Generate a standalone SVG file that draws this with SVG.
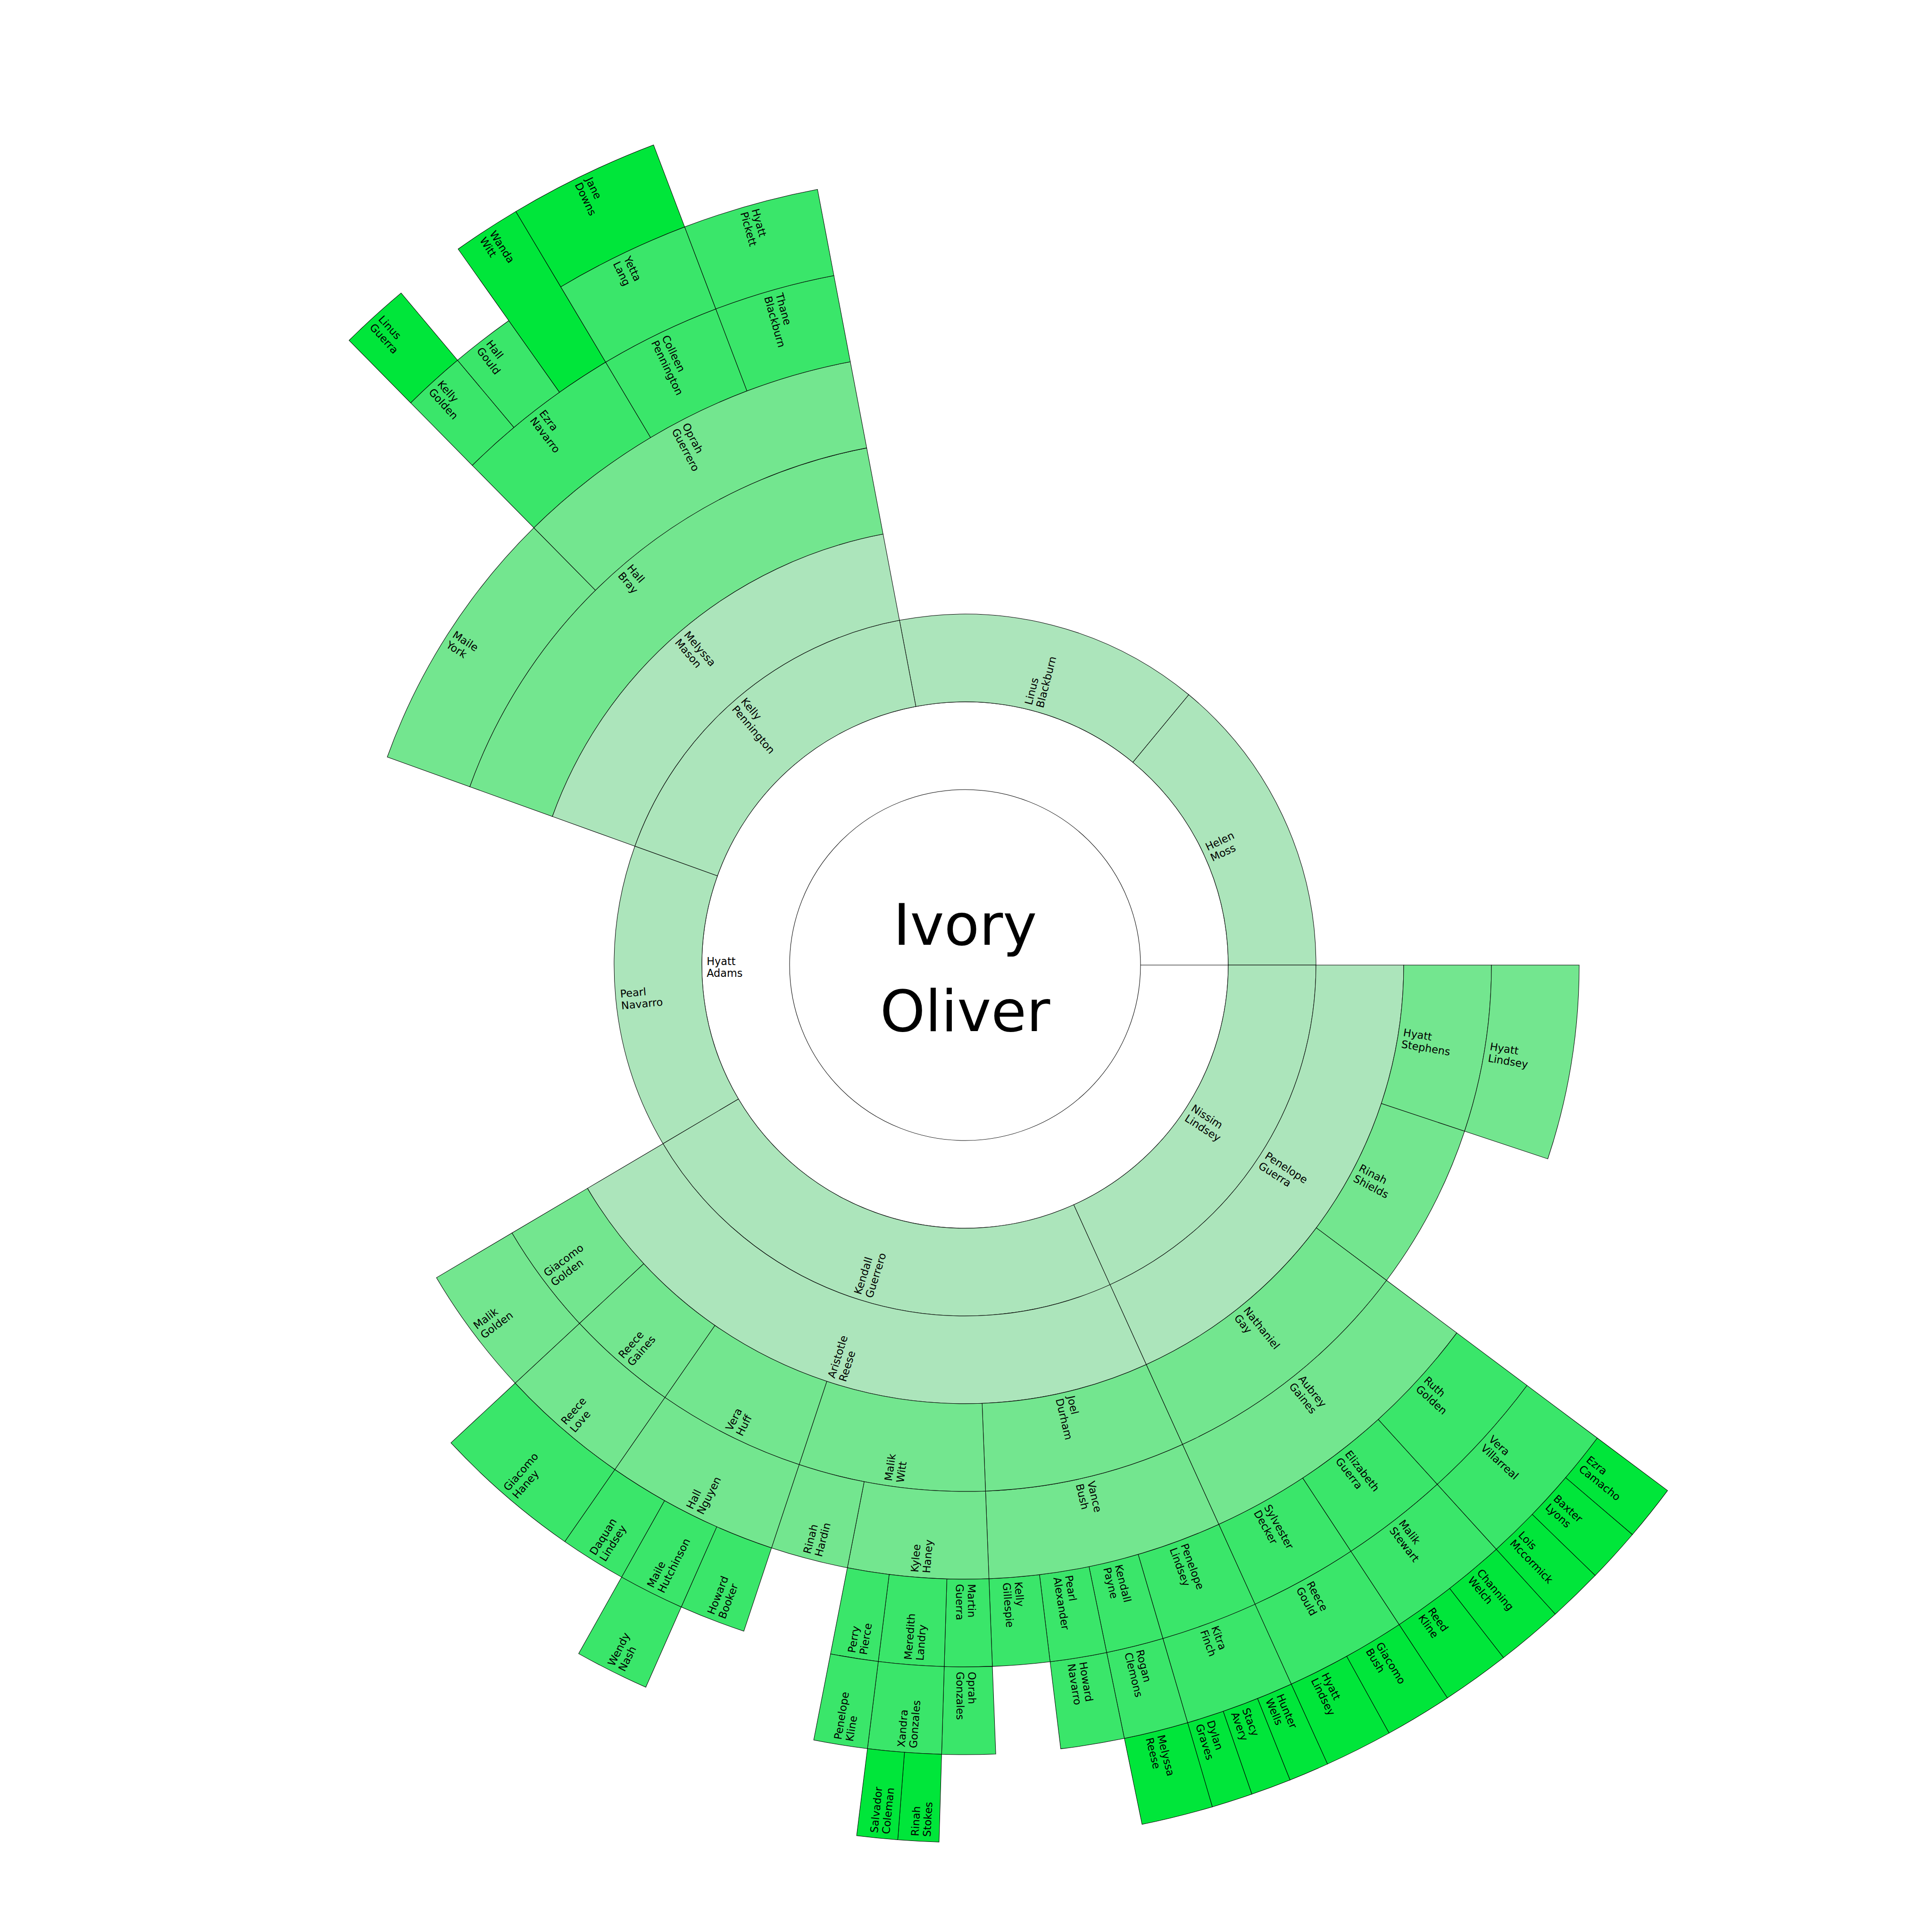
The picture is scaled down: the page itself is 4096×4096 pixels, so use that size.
<svg xmlns="http://www.w3.org/2000/svg" width="4096" height="4096" viewBox="0 0 4096 4096">
<style>
.s{stroke:#000;stroke-width:1.1;stroke-linejoin:miter}
.c0{fill:#ffffff}.c1{fill:#ace5bb}.c2{fill:#73e68f}.c3{fill:#3ae66a}.c4{fill:#00e63a}
text{font-family:"DejaVu Sans",Verdana,sans-serif;font-size:24px;fill:#000}
.root{font-size:131px;text-anchor:middle}
</style>
<rect width="4096" height="4096" fill="#fff"/>
<g transform="translate(2046,2046) scale(0.93)">
<g id="n-hyatt-adams"><path class="s c0" d="M400,0 L600,0 A600,600 0 1 1 -600,0 A600,600 0 1 1 600,0 Z"/><text transform="rotate(0)"><tspan x="-589" y="0">Hyatt</tspan><tspan x="-589" y="27">Adams</tspan></text></g>
<g id="n-ivory-oliver"><circle class="s c0" r="400"/><text class="root"><tspan x="0" y="-46">Ivory</tspan><tspan x="0" y="151">Oliver</tspan></text></g>
<g id="n-helen-moss"><path class="s c1" d="M382.5,-462.3 L509.9,-616.4 A800,800 0 0 1 800,0 L600,0 A600,600 0 0 0 382.5,-462.3Z"/><text transform="rotate(-25.2)"><tspan x="611" y="0">Helen</tspan><tspan x="611" y="27">Moss</tspan></text></g>
<g id="n-linus-blackburn"><path class="s c1" d="M-112.1,-589.4 L-149.5,-785.9 A800,800 0 0 1 509.9,-616.4 L382.5,-462.3 A600,600 0 0 0 -112.1,-589.4Z"/><text transform="rotate(-75.59)"><tspan x="611" y="0">Linus</tspan><tspan x="611" y="27">Blackburn</tspan></text></g>
<g id="n-kelly-pennington"><path class="s c1" d="M-564.5,-203.2 L-752.7,-271.0 A800,800 0 0 1 -149.5,-785.9 L-112.1,-589.4 A600,600 0 0 0 -564.5,-203.2Z"/><text transform="rotate(49.52)"><tspan x="-789" y="0">Kelly</tspan><tspan x="-789" y="27">Pennington</tspan></text></g>
<g id="n-pearl-navarro"><path class="s c1" d="M-516.5,305.4 L-688.6,407.2 A800,800 0 0 1 -752.7,-271.0 L-564.5,-203.2 A600,600 0 0 0 -516.5,305.4Z"/><text transform="rotate(-5.4)"><tspan x="-789" y="0">Pearl</tspan><tspan x="-789" y="27">Navarro</tspan></text></g>
<g id="n-kendall-guerrero"><path class="s c1" d="M247.9,546.4 L330.5,728.6 A800,800 0 0 1 -688.6,407.2 L-516.5,305.4 A600,600 0 0 0 247.9,546.4Z"/><text transform="rotate(-72.5)"><tspan x="-789" y="0">Kendall</tspan><tspan x="-789" y="27">Guerrero</tspan></text></g>
<g id="n-nissim-lindsey"><path class="s c1" d="M600,0 L800,0 A800,800 0 0 1 330.5,728.6 L247.9,546.4 A600,600 0 0 0 600,0Z"/><text transform="rotate(32.8)"><tspan x="611" y="0">Nissim</tspan><tspan x="611" y="27">Lindsey</tspan></text></g>
<g id="n-penelope-guerra"><path class="s c1" d="M800,0 L1000,0 A1000,1000 0 0 1 413.1,910.7 L330.5,728.6 A800,800 0 0 0 800,0Z"/><text transform="rotate(32.8)"><tspan x="811" y="0">Penelope</tspan><tspan x="811" y="27">Guerra</tspan></text></g>
<g id="n-aristotle-reese"><path class="s c1" d="M330.5,728.6 L413.1,910.7 A1000,1000 0 0 1 -860.8,509.0 L-688.6,407.2 A800,800 0 0 0 330.5,728.6Z"/><text transform="rotate(-72.5)"><tspan x="-989" y="0">Aristotle</tspan><tspan x="-989" y="27">Reese</tspan></text></g>
<g id="n-melyssa-mason"><path class="s c1" d="M-752.7,-271.0 L-940.9,-338.7 A1000,1000 0 0 1 -186.9,-982.4 L-149.5,-785.9 A800,800 0 0 0 -752.7,-271.0Z"/><text transform="rotate(49.52)"><tspan x="-989" y="0">Melyssa</tspan><tspan x="-989" y="27">Mason</tspan></text></g>
<g id="n-hall-bray"><path class="s c2" d="M-940.9,-338.7 L-1129.1,-406.5 A1200,1200 0 0 1 -224.2,-1178.9 L-186.9,-982.4 A1000,1000 0 0 0 -940.9,-338.7Z"/><text transform="rotate(49.52)"><tspan x="-1189" y="0">Hall</tspan><tspan x="-1189" y="27">Bray</tspan></text></g>
<g id="n-maile-york"><path class="s c2" d="M-1129.1,-406.5 L-1317.2,-474.2 A1400,1400 0 0 1 -983.0,-996.8 L-842.6,-854.4 A1200,1200 0 0 0 -1129.1,-406.5Z"/><text transform="rotate(32.6)"><tspan x="-1389" y="0">Maile</tspan><tspan x="-1389" y="27">York</tspan></text></g>
<g id="n-oprah-guerrero"><path class="s c2" d="M-842.6,-854.4 L-983.0,-996.8 A1400,1400 0 0 1 -261.6,-1375.4 L-224.2,-1178.9 A1200,1200 0 0 0 -842.6,-854.4Z"/><text transform="rotate(62.32)"><tspan x="-1389" y="0">Oprah</tspan><tspan x="-1389" y="27">Guerrero</tspan></text></g>
<g id="n-ezra-navarro"><path class="s c3" d="M-983.0,-996.8 L-1123.5,-1139.2 A1600,1600 0 0 1 -819.3,-1374.4 L-716.9,-1202.6 A1400,1400 0 0 0 -983.0,-996.8Z"/><text transform="rotate(52.3)"><tspan x="-1589" y="0">Ezra</tspan><tspan x="-1589" y="27">Navarro</tspan></text></g>
<g id="n-colleen-pennington"><path class="s c3" d="M-716.9,-1202.6 L-819.3,-1374.4 A1600,1600 0 0 1 -568.2,-1495.7 L-497.2,-1308.8 A1400,1400 0 0 0 -716.9,-1202.6Z"/><text transform="rotate(64.2)"><tspan x="-1589" y="0">Colleen</tspan><tspan x="-1589" y="27">Pennington</tspan></text></g>
<g id="n-thane-blackburn"><path class="s c3" d="M-497.2,-1308.8 L-568.2,-1495.7 A1600,1600 0 0 1 -299.0,-1571.8 L-261.6,-1375.4 A1400,1400 0 0 0 -497.2,-1308.8Z"/><text transform="rotate(74.22)"><tspan x="-1589" y="0">Thane</tspan><tspan x="-1589" y="27">Blackburn</tspan></text></g>
<g id="n-kelly-golden"><path class="s c3" d="M-1123.5,-1139.2 L-1263.9,-1281.7 A1800,1800 0 0 1 -1157.0,-1378.9 L-1028.5,-1225.7 A1600,1600 0 0 0 -1123.5,-1139.2Z"/><text transform="rotate(47.7)"><tspan x="-1789" y="0">Kelly</tspan><tspan x="-1789" y="27">Golden</tspan></text></g>
<g id="n-hall-gould"><path class="s c3" d="M-1028.5,-1225.7 L-1157.0,-1378.9 A1800,1800 0 0 1 -1040.1,-1469.1 L-924.6,-1305.8 A1600,1600 0 0 0 -1028.5,-1225.7Z"/><text transform="rotate(52.35)"><tspan x="-1789" y="0">Hall</tspan><tspan x="-1789" y="27">Gould</tspan></text></g>
<g id="n-wanda-witt"><path class="s c4" d="M-924.6,-1305.8 L-1155.7,-1632.3 A2000,2000 0 0 1 -1024.1,-1717.9 L-819.3,-1374.4 A1600,1600 0 0 0 -924.6,-1305.8Z"/><text transform="rotate(56.95)"><tspan x="-1989" y="0">Wanda</tspan><tspan x="-1989" y="27">Witt</tspan></text></g>
<g id="n-yetta-lang"><path class="s c3" d="M-819.3,-1374.4 L-921.7,-1546.1 A1800,1800 0 0 1 -639.2,-1682.7 L-568.2,-1495.7 A1600,1600 0 0 0 -819.3,-1374.4Z"/><text transform="rotate(64.2)"><tspan x="-1789" y="0">Yetta</tspan><tspan x="-1789" y="27">Lang</tspan></text></g>
<g id="n-hyatt-pickett"><path class="s c3" d="M-568.2,-1495.7 L-639.2,-1682.7 A1800,1800 0 0 1 -336.4,-1768.3 L-299.0,-1571.8 A1600,1600 0 0 0 -568.2,-1495.7Z"/><text transform="rotate(74.22)"><tspan x="-1789" y="0">Hyatt</tspan><tspan x="-1789" y="27">Pickett</tspan></text></g>
<g id="n-linus-guerra"><path class="s c4" d="M-1263.9,-1281.7 L-1404.3,-1424.1 A2000,2000 0 0 1 -1285.6,-1532.1 L-1157.0,-1378.9 A1800,1800 0 0 0 -1263.9,-1281.7Z"/><text transform="rotate(47.7)"><tspan x="-1989" y="0">Linus</tspan><tspan x="-1989" y="27">Guerra</tspan></text></g>
<g id="n-jane-downs"><path class="s c4" d="M-921.7,-1546.1 L-1024.1,-1717.9 A2000,2000 0 0 1 -710.2,-1869.7 L-639.2,-1682.7 A1800,1800 0 0 0 -921.7,-1546.1Z"/><text transform="rotate(64.2)"><tspan x="-1989" y="0">Jane</tspan><tspan x="-1989" y="27">Downs</tspan></text></g>
<g id="n-hyatt-stephens"><path class="s c2" d="M1000,0 L1200,0 A1200,1200 0 0 1 1138.7,378.8 L948.9,315.7 A1000,1000 0 0 0 1000,0Z"/><text transform="rotate(9.2)"><tspan x="1011" y="0">Hyatt</tspan><tspan x="1011" y="27">Stephens</tspan></text></g>
<g id="n-hyatt-lindsey-1"><path class="s c2" d="M1200,0 L1400,0 A1400,1400 0 0 1 1328.4,441.9 L1138.7,378.8 A1200,1200 0 0 0 1200,0Z"/><text transform="rotate(9.2)"><tspan x="1211" y="0">Hyatt</tspan><tspan x="1211" y="27">Lindsey</tspan></text></g>
<g id="n-rinah-shields"><path class="s c2" d="M948.9,315.7 L1138.7,378.8 A1200,1200 0 0 1 960.9,718.8 L800.7,599.0 A1000,1000 0 0 0 948.9,315.7Z"/><text transform="rotate(27.6)"><tspan x="1011" y="0">Rinah</tspan><tspan x="1011" y="27">Shields</tspan></text></g>
<g id="n-nathaniel-gay"><path class="s c2" d="M800.7,599.0 L960.9,718.8 A1200,1200 0 0 1 495.7,1092.8 L413.1,910.7 A1000,1000 0 0 0 800.7,599.0Z"/><text transform="rotate(51.2)"><tspan x="1011" y="0">Nathaniel</tspan><tspan x="1011" y="27">Gay</tspan></text></g>
<g id="n-aubrey-gaines"><path class="s c2" d="M960.9,718.8 L1121.0,838.6 A1400,1400 0 0 1 578.4,1275.0 L495.7,1092.8 A1200,1200 0 0 0 960.9,718.8Z"/><text transform="rotate(51.2)"><tspan x="1211" y="0">Aubrey</tspan><tspan x="1211" y="27">Gaines</tspan></text></g>
<g id="n-ruth-golden"><path class="s c3" d="M1121.0,838.6 L1281.2,958.4 A1600,1600 0 0 1 1076.4,1183.8 L941.9,1035.8 A1400,1400 0 0 0 1121.0,838.6Z"/><text transform="rotate(42.26)"><tspan x="1411" y="0">Ruth</tspan><tspan x="1411" y="27">Golden</tspan></text></g>
<g id="n-elizabeth-guerra"><path class="s c3" d="M941.9,1035.8 L1076.4,1183.8 A1600,1600 0 0 1 879.6,1336.5 L769.7,1169.5 A1400,1400 0 0 0 941.9,1035.8Z"/><text transform="rotate(52.19)"><tspan x="1411" y="0">Elizabeth</tspan><tspan x="1411" y="27">Guerra</tspan></text></g>
<g id="n-sylvester-decker"><path class="s c3" d="M769.7,1169.5 L879.6,1336.5 A1600,1600 0 0 1 661.0,1457.1 L578.4,1275.0 A1400,1400 0 0 0 769.7,1169.5Z"/><text transform="rotate(61.13)"><tspan x="1411" y="0">Sylvester</tspan><tspan x="1411" y="27">Decker</tspan></text></g>
<g id="n-vera-villarreal"><path class="s c3" d="M1281.2,958.4 L1441.3,1078.2 A1800,1800 0 0 1 1211.0,1331.8 L1076.4,1183.8 A1600,1600 0 0 0 1281.2,958.4Z"/><text transform="rotate(42.26)"><tspan x="1611" y="0">Vera</tspan><tspan x="1611" y="27">Villarreal</tspan></text></g>
<g id="n-malik-stewart"><path class="s c3" d="M1076.4,1183.8 L1211.0,1331.8 A1800,1800 0 0 1 989.6,1503.6 L879.6,1336.5 A1600,1600 0 0 0 1076.4,1183.8Z"/><text transform="rotate(52.19)"><tspan x="1611" y="0">Malik</tspan><tspan x="1611" y="27">Stewart</tspan></text></g>
<g id="n-reece-gould"><path class="s c3" d="M879.6,1336.5 L989.6,1503.6 A1800,1800 0 0 1 743.6,1639.2 L661.0,1457.1 A1600,1600 0 0 0 879.6,1336.5Z"/><text transform="rotate(61.13)"><tspan x="1611" y="0">Reece</tspan><tspan x="1611" y="27">Gould</tspan></text></g>
<g id="n-ezra-camacho"><path class="s c4" d="M1441.3,1078.2 L1601.5,1198.0 A2000,2000 0 0 1 1521.3,1298.4 L1369.1,1168.5 A1800,1800 0 0 0 1441.3,1078.2Z"/><text transform="rotate(38.64)"><tspan x="1811" y="0">Ezra</tspan><tspan x="1811" y="27">Camacho</tspan></text></g>
<g id="n-baxter-lyons"><path class="s c4" d="M1369.1,1168.5 L1521.3,1298.4 A2000,2000 0 0 1 1436.5,1391.6 L1292.9,1252.4 A1800,1800 0 0 0 1369.1,1168.5Z"/><text transform="rotate(42.29)"><tspan x="1811" y="0">Baxter</tspan><tspan x="1811" y="27">Lyons</tspan></text></g>
<g id="n-lois-mccormick"><path class="s c4" d="M1292.9,1252.4 L1436.5,1391.6 A2000,2000 0 0 1 1345.5,1479.7 L1211.0,1331.8 A1800,1800 0 0 0 1292.9,1252.4Z"/><text transform="rotate(45.91)"><tspan x="1811" y="0">Lois</tspan><tspan x="1811" y="27">Mccormick</tspan></text></g>
<g id="n-channing-welch"><path class="s c4" d="M1211.0,1331.8 L1345.5,1479.7 A2000,2000 0 0 1 1227.5,1579.0 L1104.7,1421.1 A1800,1800 0 0 0 1211.0,1331.8Z"/><text transform="rotate(49.93)"><tspan x="1811" y="0">Channing</tspan><tspan x="1811" y="27">Welch</tspan></text></g>
<g id="n-reed-kline"><path class="s c4" d="M1104.7,1421.1 L1227.5,1579.0 A2000,2000 0 0 1 1099.5,1670.7 L989.6,1503.6 A1800,1800 0 0 0 1104.7,1421.1Z"/><text transform="rotate(54.4)"><tspan x="1811" y="0">Reed</tspan><tspan x="1811" y="27">Kline</tspan></text></g>
<g id="n-giacomo-bush"><path class="s c4" d="M989.6,1503.6 L1099.5,1670.7 A2000,2000 0 0 1 966.6,1750.9 L869.9,1575.8 A1800,1800 0 0 0 989.6,1503.6Z"/><text transform="rotate(58.88)"><tspan x="1811" y="0">Giacomo</tspan><tspan x="1811" y="27">Bush</tspan></text></g>
<g id="n-hyatt-lindsey-2"><path class="s c4" d="M869.9,1575.8 L966.6,1750.9 A2000,2000 0 0 1 826.2,1821.4 L743.6,1639.2 A1800,1800 0 0 0 869.9,1575.8Z"/><text transform="rotate(63.35)"><tspan x="1811" y="0">Hyatt</tspan><tspan x="1811" y="27">Lindsey</tspan></text></g>
<g id="n-hunter-wells"><path class="s c4" d="M743.6,1639.2 L826.2,1821.4 A2000,2000 0 0 1 740.8,1857.8 L666.7,1672.0 A1800,1800 0 0 0 743.6,1639.2Z"/><text transform="rotate(66.93)"><tspan x="1811" y="0">Hunter</tspan><tspan x="1811" y="27">Wells</tspan></text></g>
<g id="n-stacy-avery"><path class="s c4" d="M666.7,1672.0 L740.8,1857.8 A2000,2000 0 0 1 653.8,1890.1 L588.4,1701.1 A1800,1800 0 0 0 666.7,1672.0Z"/><text transform="rotate(69.59)"><tspan x="1811" y="0">Stacy</tspan><tspan x="1811" y="27">Avery</tspan></text></g>
<g id="n-dylan-graves"><path class="s c4" d="M588.4,1701.1 L653.8,1890.1 A2000,2000 0 0 1 563.7,1919.0 L507.3,1727.1 A1800,1800 0 0 0 588.4,1701.1Z"/><text transform="rotate(72.28)"><tspan x="1811" y="0">Dylan</tspan><tspan x="1811" y="27">Graves</tspan></text></g>
<g id="n-melyssa-reese"><path class="s c4" d="M507.3,1727.1 L563.7,1919.0 A2000,2000 0 0 1 403.5,1958.9 L363.2,1763.0 A1800,1800 0 0 0 507.3,1727.1Z"/><text transform="rotate(76)"><tspan x="1811" y="0">Melyssa</tspan><tspan x="1811" y="27">Reese</tspan></text></g>
<g id="n-kitra-finch"><path class="s c3" d="M661.0,1457.1 L743.6,1639.2 A1800,1800 0 0 1 507.3,1727.1 L451.0,1535.2 A1600,1600 0 0 0 661.0,1457.1Z"/><text transform="rotate(69.62)"><tspan x="1611" y="0">Kitra</tspan><tspan x="1611" y="27">Finch</tspan></text></g>
<g id="n-rogan-clemons"><path class="s c3" d="M451.0,1535.2 L507.3,1727.1 A1800,1800 0 0 1 363.2,1763.0 L322.8,1567.1 A1600,1600 0 0 0 451.0,1535.2Z"/><text transform="rotate(76)"><tspan x="1611" y="0">Rogan</tspan><tspan x="1611" y="27">Clemons</tspan></text></g>
<g id="n-howard-navarro"><path class="s c3" d="M322.8,1567.1 L363.2,1763.0 A1800,1800 0 0 1 218.1,1786.7 L193.9,1588.2 A1600,1600 0 0 0 322.8,1567.1Z"/><text transform="rotate(80.7)"><tspan x="1611" y="0">Howard</tspan><tspan x="1611" y="27">Navarro</tspan></text></g>
<g id="n-penelope-lindsey"><path class="s c3" d="M578.4,1275.0 L661.0,1457.1 A1600,1600 0 0 1 451.0,1535.2 L394.6,1343.3 A1400,1400 0 0 0 578.4,1275.0Z"/><text transform="rotate(69.62)"><tspan x="1411" y="0">Penelope</tspan><tspan x="1411" y="27">Lindsey</tspan></text></g>
<g id="n-kendall-payne"><path class="s c3" d="M394.6,1343.3 L451.0,1535.2 A1600,1600 0 0 1 322.8,1567.1 L282.5,1371.2 A1400,1400 0 0 0 394.6,1343.3Z"/><text transform="rotate(76)"><tspan x="1411" y="0">Kendall</tspan><tspan x="1411" y="27">Payne</tspan></text></g>
<g id="n-pearl-alexander"><path class="s c3" d="M282.5,1371.2 L322.8,1567.1 A1600,1600 0 0 1 193.9,1588.2 L169.7,1389.7 A1400,1400 0 0 0 282.5,1371.2Z"/><text transform="rotate(80.7)"><tspan x="1411" y="0">Pearl</tspan><tspan x="1411" y="27">Alexander</tspan></text></g>
<g id="n-kelly-gillespie"><path class="s c3" d="M169.7,1389.7 L193.9,1588.2 A1600,1600 0 0 1 62.3,1598.8 L54.5,1398.9 A1400,1400 0 0 0 169.7,1389.7Z"/><text transform="rotate(85.41)"><tspan x="1411" y="0">Kelly</tspan><tspan x="1411" y="27">Gillespie</tspan></text></g>
<g id="n-vance-bush"><path class="s c2" d="M495.7,1092.8 L578.4,1275.0 A1400,1400 0 0 1 54.5,1398.9 L46.7,1199.1 A1200,1200 0 0 0 495.7,1092.8Z"/><text transform="rotate(76.69)"><tspan x="1211" y="0">Vance</tspan><tspan x="1211" y="27">Bush</tspan></text></g>
<g id="n-joel-durham"><path class="s c2" d="M413.1,910.7 L495.7,1092.8 A1200,1200 0 0 1 46.7,1199.1 L38.9,999.2 A1000,1000 0 0 0 413.1,910.7Z"/><text transform="rotate(76.69)"><tspan x="1011" y="0">Joel</tspan><tspan x="1011" y="27">Durham</tspan></text></g>
<g id="n-malik-witt"><path class="s c2" d="M38.9,999.2 L46.7,1199.1 A1200,1200 0 0 1 -378.2,1138.8 L-315.2,949.0 A1000,1000 0 0 0 38.9,999.2Z"/><text transform="rotate(-81.93)"><tspan x="-1189" y="0">Malik</tspan><tspan x="-1189" y="27">Witt</tspan></text></g>
<g id="n-kylee-haney"><path class="s c2" d="M46.7,1199.1 L54.5,1398.9 A1400,1400 0 0 1 -268.3,1374.0 L-230.0,1177.8 A1200,1200 0 0 0 46.7,1199.1Z"/><text transform="rotate(-85.59)"><tspan x="-1389" y="0">Kylee</tspan><tspan x="-1389" y="27">Haney</tspan></text></g>
<g id="n-rinah-hardin"><path class="s c2" d="M-230.0,1177.8 L-268.3,1374.0 A1400,1400 0 0 1 -441.2,1328.7 L-378.2,1138.8 A1200,1200 0 0 0 -230.0,1177.8Z"/><text transform="rotate(-75.29)"><tspan x="-1389" y="0">Rinah</tspan><tspan x="-1389" y="27">Hardin</tspan></text></g>
<g id="n-martin-guerra"><path class="s c3" d="M54.5,1398.9 L62.3,1598.8 A1600,1600 0 0 1 -47.5,1599.3 L-41.5,1399.4 A1400,1400 0 0 0 54.5,1398.9Z"/><text transform="rotate(89.74)"><tspan x="1411" y="0">Martin</tspan><tspan x="1411" y="27">Guerra</tspan></text></g>
<g id="n-meredith-landry"><path class="s c3" d="M-41.5,1399.4 L-47.5,1599.3 A1600,1600 0 0 1 -197.8,1587.7 L-173.0,1389.3 A1400,1400 0 0 0 -41.5,1399.4Z"/><text transform="rotate(-85.6)"><tspan x="-1589" y="0">Meredith</tspan><tspan x="-1589" y="27">Landry</tspan></text></g>
<g id="n-perry-pierce"><path class="s c3" d="M-173.0,1389.3 L-197.8,1587.7 A1600,1600 0 0 1 -306.7,1570.3 L-268.3,1374.0 A1400,1400 0 0 0 -173.0,1389.3Z"/><text transform="rotate(-80.93)"><tspan x="-1589" y="0">Perry</tspan><tspan x="-1589" y="27">Pierce</tspan></text></g>
<g id="n-oprah-gonzales"><path class="s c3" d="M62.3,1598.8 L70.0,1798.6 A1800,1800 0 0 1 -53.4,1799.2 L-47.5,1599.3 A1600,1600 0 0 0 62.3,1598.8Z"/><text transform="rotate(89.74)"><tspan x="1611" y="0">Oprah</tspan><tspan x="1611" y="27">Gonzales</tspan></text></g>
<g id="n-xandra-gonzales"><path class="s c3" d="M-47.5,1599.3 L-53.4,1799.2 A1800,1800 0 0 1 -222.5,1786.2 L-197.8,1587.7 A1600,1600 0 0 0 -47.5,1599.3Z"/><text transform="rotate(-85.6)"><tspan x="-1789" y="0">Xandra</tspan><tspan x="-1789" y="27">Gonzales</tspan></text></g>
<g id="n-penelope-kline"><path class="s c3" d="M-197.8,1587.7 L-222.5,1786.2 A1800,1800 0 0 1 -345.0,1766.6 L-306.7,1570.3 A1600,1600 0 0 0 -197.8,1587.7Z"/><text transform="rotate(-80.93)"><tspan x="-1789" y="0">Penelope</tspan><tspan x="-1789" y="27">Kline</tspan></text></g>
<g id="n-rinah-stokes"><path class="s c4" d="M-53.4,1799.2 L-59.3,1999.1 A2000,2000 0 0 1 -153.4,1994.1 L-138.1,1794.7 A1800,1800 0 0 0 -53.4,1799.2Z"/><text transform="rotate(-86.95)"><tspan x="-1989" y="0">Rinah</tspan><tspan x="-1989" y="27">Stokes</tspan></text></g>
<g id="n-salvador-coleman"><path class="s c4" d="M-138.1,1794.7 L-153.4,1994.1 A2000,2000 0 0 1 -247.2,1984.7 L-222.5,1786.2 A1800,1800 0 0 0 -138.1,1794.7Z"/><text transform="rotate(-84.25)"><tspan x="-1989" y="0">Salvador</tspan><tspan x="-1989" y="27">Coleman</tspan></text></g>
<g id="n-vera-huff"><path class="s c2" d="M-315.2,949.0 L-378.2,1138.8 A1200,1200 0 0 1 -684.3,985.7 L-570.3,821.5 A1000,1000 0 0 0 -315.2,949.0Z"/><text transform="rotate(-63.43)"><tspan x="-1189" y="0">Vera</tspan><tspan x="-1189" y="27">Huff</tspan></text></g>
<g id="n-hall-nguyen"><path class="s c2" d="M-378.2,1138.8 L-441.2,1328.7 A1400,1400 0 0 1 -798.4,1150.0 L-684.3,985.7 A1200,1200 0 0 0 -378.2,1138.8Z"/><text transform="rotate(-63.43)"><tspan x="-1389" y="0">Hall</tspan><tspan x="-1389" y="27">Nguyen</tspan></text></g>
<g id="n-howard-booker"><path class="s c3" d="M-441.2,1328.7 L-504.3,1518.5 A1600,1600 0 0 1 -647.0,1463.4 L-566.1,1280.5 A1400,1400 0 0 0 -441.2,1328.7Z"/><text transform="rotate(-68.89)"><tspan x="-1589" y="0">Howard</tspan><tspan x="-1589" y="27">Booker</tspan></text></g>
<g id="n-maile-hutchinson"><path class="s c3" d="M-566.1,1280.5 L-647.0,1463.4 A1600,1600 0 0 1 -783.0,1395.3 L-685.1,1220.9 A1400,1400 0 0 0 -566.1,1280.5Z"/><text transform="rotate(-63.43)"><tspan x="-1589" y="0">Maile</tspan><tspan x="-1589" y="27">Hutchinson</tspan></text></g>
<g id="n-daquan-lindsey"><path class="s c3" d="M-685.1,1220.9 L-783.0,1395.3 A1600,1600 0 0 1 -912.5,1314.3 L-798.4,1150.0 A1400,1400 0 0 0 -685.1,1220.9Z"/><text transform="rotate(-57.97)"><tspan x="-1589" y="0">Daquan</tspan><tspan x="-1589" y="27">Lindsey</tspan></text></g>
<g id="n-wendy-nash"><path class="s c3" d="M-647.0,1463.4 L-727.8,1646.3 A1800,1800 0 0 1 -880.9,1569.7 L-783.0,1395.3 A1600,1600 0 0 0 -647.0,1463.4Z"/><text transform="rotate(-63.43)"><tspan x="-1789" y="0">Wendy</tspan><tspan x="-1789" y="27">Nash</tspan></text></g>
<g id="n-reece-gaines"><path class="s c2" d="M-570.3,821.5 L-684.3,985.7 A1200,1200 0 0 1 -879.0,816.9 L-732.5,680.7 A1000,1000 0 0 0 -570.3,821.5Z"/><text transform="rotate(-49.07)"><tspan x="-1189" y="0">Reece</tspan><tspan x="-1189" y="27">Gaines</tspan></text></g>
<g id="n-reece-love"><path class="s c2" d="M-684.3,985.7 L-798.4,1150.0 A1400,1400 0 0 1 -1025.6,953.0 L-879.0,816.9 A1200,1200 0 0 0 -684.3,985.7Z"/><text transform="rotate(-49.07)"><tspan x="-1389" y="0">Reece</tspan><tspan x="-1389" y="27">Love</tspan></text></g>
<g id="n-giacomo-haney"><path class="s c3" d="M-798.4,1150.0 L-912.5,1314.3 A1600,1600 0 0 1 -1172.1,1089.2 L-1025.6,953.0 A1400,1400 0 0 0 -798.4,1150.0Z"/><text transform="rotate(-49.07)"><tspan x="-1589" y="0">Giacomo</tspan><tspan x="-1589" y="27">Haney</tspan></text></g>
<g id="n-giacomo-golden"><path class="s c2" d="M-732.5,680.7 L-879.0,816.9 A1200,1200 0 0 1 -1032.9,610.8 L-860.8,509.0 A1000,1000 0 0 0 -732.5,680.7Z"/><text transform="rotate(-36.75)"><tspan x="-1189" y="0">Giacomo</tspan><tspan x="-1189" y="27">Golden</tspan></text></g>
<g id="n-malik-golden"><path class="s c2" d="M-879.0,816.9 L-1025.6,953.0 A1400,1400 0 0 1 -1205.1,712.7 L-1032.9,610.8 A1200,1200 0 0 0 -879.0,816.9Z"/><text transform="rotate(-36.75)"><tspan x="-1389" y="0">Malik</tspan><tspan x="-1389" y="27">Golden</tspan></text></g>
</g>
<g id="connectors"/>
</svg>
